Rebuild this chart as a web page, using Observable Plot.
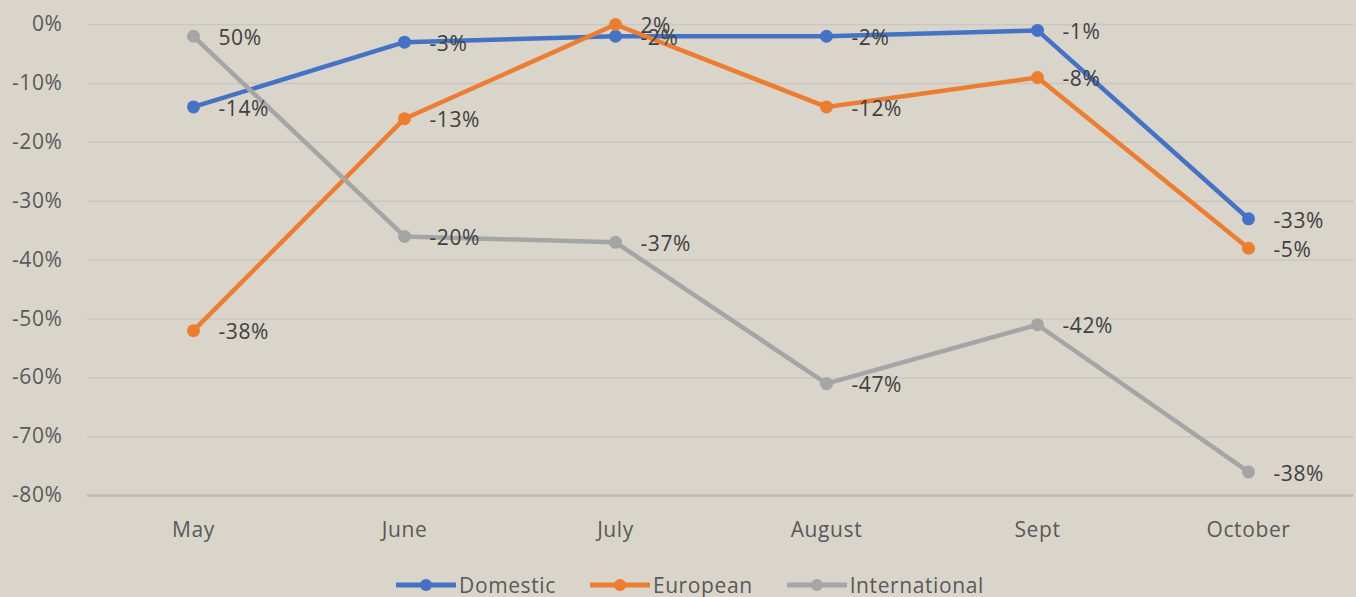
<!DOCTYPE html>
<html>
<head>
<meta charset="utf-8">
<script src="https://cdn.jsdelivr.net/npm/d3@7"></script>
<script src="https://cdn.jsdelivr.net/npm/@observablehq/plot@0.6"></script>
<style>
  html, body { margin: 0; padding: 0; background: #d9d5cb; }
  body { width: 1356px; height: 597px; overflow: hidden; font-family: "Open Sans", sans-serif; }
  #legend { display: flex; justify-content: center; align-items: center; height: 30px; padding-top: 4px; padding-left: 24px; }
  .item { display: flex; align-items: center; margin: 0 17px; font-size: 21px; color: #595959; letter-spacing: 0.6px; }
  .item svg { margin-right: 3px; }
</style>
</head>
<body>
<div id="chart"></div>
<div id="legend"></div>
<script>
const months = ["May", "June", "July", "August", "Sept", "October"];
const seriesNames = ["Domestic", "European", "International"];
const seriesColors = ["#4472c4", "#ed7d31", "#a5a5a5"];
const domestic = [-14, -3, -2, -2, -1, -33];
const european = [-52, -16, 0, -14, -9, -38];
const international = [-2, -36, -37, -61, -51, -76];
const domesticLabels = ["-14%", "-3%", "-2%", "-2%", "-1%", "-33%"];
const europeanLabels = ["-38%", "-13%", "2%", "-12%", "-8%", "-5%"];
const internationalLabels = ["50%", "-20%", "-37%", "-47%", "-42%", "-38%"];
const yTicks = [0, -10, -20, -30, -40, -50, -60, -70, -80];

const valuesBySeries = [domestic, european, international];
const labelsBySeries = [domesticLabels, europeanLabels, internationalLabels];
const rows = [];
seriesNames.forEach((s, si) => {
  months.forEach((m, mi) => {
    rows.push({series: s, month: m, value: valuesBySeries[si][mi], label: labelsBySeries[si][mi]});
  });
});

const lineMarks = [];
seriesNames.forEach((s, si) => {
  const d = rows.filter(r => r.series === s);
  lineMarks.push(Plot.line(d, {x: "month", y: "value", stroke: seriesColors[si], strokeWidth: 4.5}));
  lineMarks.push(Plot.dot(d, {x: "month", y: "value", fill: seriesColors[si], r: 6.5}));
});

const chart = Plot.plot({
  width: 1356,
  height: 566,
  marginLeft: 87,
  marginRight: 3,
  marginTop: 24,
  marginBottom: 71,
  style: {background: "#d9d5cb", fontFamily: "Open Sans, sans-serif", fontSize: "21px", letterSpacing: "0.6px"},
  x: {type: "point", domain: months, padding: 0.5},
  y: {domain: [-80, 0]},
  marks: [
    Plot.ruleY(yTicks.filter(t => t !== -80), {stroke: "#c9c7c1", strokeWidth: 1.5}),
    Plot.ruleY([-80], {stroke: "#bdbbb6", strokeWidth: 2.5}),
    Plot.axisY(yTicks, {tickSize: 0, tickPadding: 25, tickFormat: d => d + "%", label: null, fill: "#595959", fontSize: 21}),
    Plot.axisX({tickSize: 0, tickPadding: 27, label: null, fill: "#595959", fontSize: 21}),
    ...lineMarks,
    Plot.text(rows, {x: "month", y: "value", text: "label", dx: 25, dy: 2, textAnchor: "start", fill: "#404040", fontSize: 21})
  ]
});
document.getElementById("chart").appendChild(chart);

const legend = document.getElementById("legend");
seriesNames.forEach((s, si) => {
  const item = document.createElement("div");
  item.className = "item";
  item.innerHTML = `<svg width="60" height="20"><line x1="1" y1="10" x2="59" y2="10" stroke="${seriesColors[si]}" stroke-width="5" stroke-linecap="round"/><circle cx="30" cy="10" r="6" fill="${seriesColors[si]}"/></svg><span>${s}</span>`;
  legend.appendChild(item);
});
</script>
</body>
</html>
